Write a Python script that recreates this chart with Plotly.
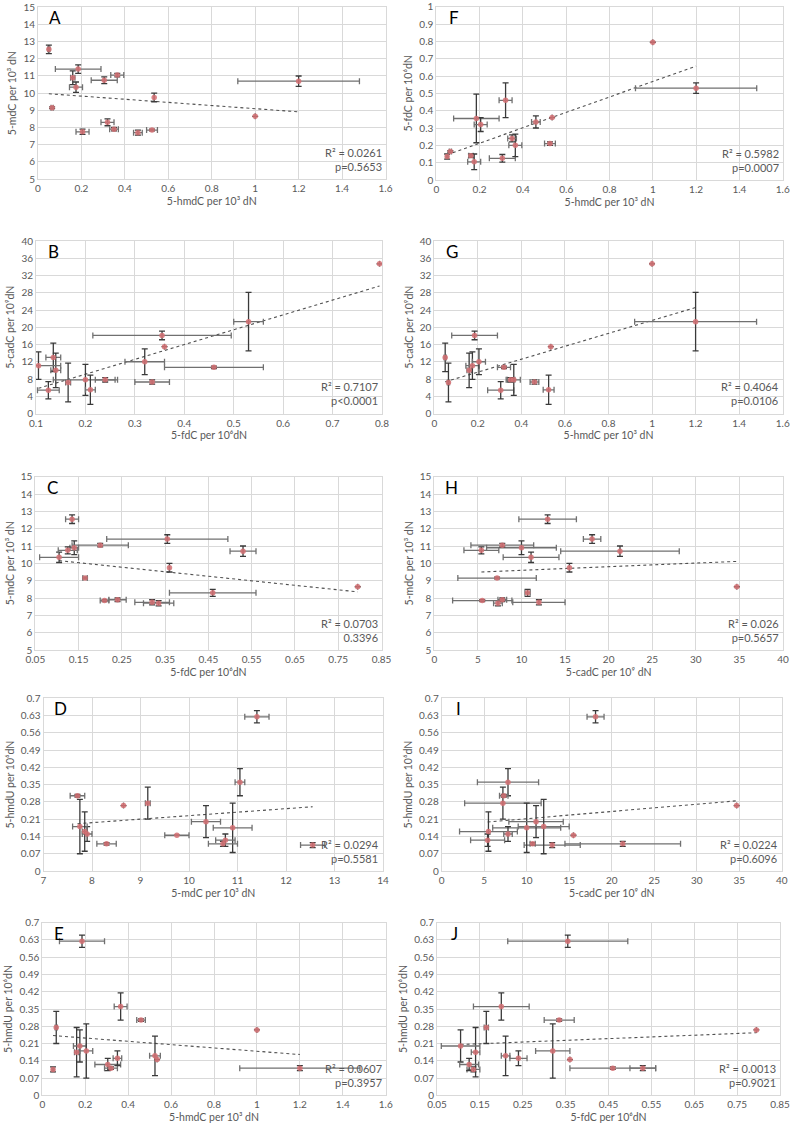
import numpy as np
import plotly.graph_objects as go

# ---- per-sample values (15 samples) ----
hmdC = [0.05, 0.065, 0.185, 0.16, 0.175, 0.305, 0.365, 0.535, 1.2, 1.0, 0.32, 0.35, 0.205, 0.46, 0.525]
mdC = [12.55, 9.15, 11.4, 10.9, 10.35, 10.75, 11.05, 9.75, 10.7, 8.65, 8.3, 7.9, 7.75, 7.7, 7.85]
fdC = [0.135, 0.165, 0.355, 0.14, 0.105, 0.125, 0.2, 0.36, 0.53, 0.795, 0.46, 0.24, 0.32, 0.335, 0.21]
cadC = [13.0, 7.2, 18.1, 10.0, 11.1, 5.4, 7.8, 15.5, 21.3, 34.7, 10.7, 7.8, 12.0, 7.3, 5.5]
hmdU = [0.105, 0.275, 0.625, 0.175, 0.2, 0.125, 0.36, 0.145, 0.11, 0.265, 0.11, 0.15, 0.18, 0.305, 0.16]

# ---- standard deviations ----
hmdC_sd = [0.005, 0.005, 0.105, 0.01, 0.03, 0.06, 0.03, None, 0.28, None, 0.03, 0.02, 0.03, 0.02, 0.025]
mdC_sd = [0.25, 0.05, 0.25, 0.4, 0.3, 0.2, 0.1, 0.25, 0.3, None, 0.2, 0.1, 0.15, 0.15, 0.05]
fdC_sd = [0.015, 0.005, 0.14, 0.01, 0.045, 0.022, 0.065, None, 0.03, None, 0.1, 0.02, 0.04, 0.035, 0.01]
cadC_sd = [3.3, 4.5, 1.0, 4.0, 3.2, 2.0, 3.6, None, 6.8, None, 0.3, 0.5, 3.0, 0.5, 3.4]
hmdU_sd = [0.01, 0.065, 0.025, 0.1, 0.065, 0.025, 0.055, None, 0.01, None, 0.005, 0.03, 0.11, 0.005, 0.08]

# ---- axis titles ----
t_hmdC = "5-hmdC per 10³ dN"
t_mdC = "5-mdC per 10³ dN"
t_fdC = "5-fdC per 10⁶dN"
t_cadC_y = "5-cadC per 10⁹dN"
t_cadC_x = "5-cadC per 10⁹ dN"
t_hmdU = "5-hmdU per 10⁶dN"

# ---- tick labels ----
ticks_hmdC = ["0", "0.2", "0.4", "0.6", "0.8", "1", "1.2", "1.4", "1.6"]
ticks_mdC = ["5", "6", "7", "8", "9", "10", "11", "12", "13", "14", "15"]
ticks_mdC_x = ["7", "8", "9", "10", "11", "12", "13", "14"]
ticks_fdC_y = ["0", "0.1", "0.2", "0.3", "0.4", "0.5", "0.6", "0.7", "0.8", "0.9", "1"]
ticks_fdC_B = ["0.1", "0.2", "0.3", "0.4", "0.5", "0.6", "0.7", "0.8"]
ticks_fdC_C = ["0.05", "0.15", "0.25", "0.35", "0.45", "0.55", "0.65", "0.75", "0.85"]
ticks_cadC_y = ["0", "4", "8", "12", "16", "20", "24", "28", "32", "36", "40"]
ticks_cadC_x = ["0", "5", "10", "15", "20", "25", "30", "35", "40"]
ticks_hmdU = ["0", "0.07", "0.14", "0.21", "0.28", "0.35", "0.42", "0.49", "0.56", "0.63", "0.7"]

# ---- statistics text ----
panel_letters = ["A", "F", "B", "G", "C", "H", "D", "I", "E", "J"]
r2_texts = ["R² = 0.0261", "R² = 0.5982", "R² = 0.7107", "R² = 0.4064", "R² = 0.0703",
            "R² = 0.026", "R² = 0.0294", "R² = 0.0224", "R² = 0.0607", "R² = 0.0013"]
p_texts = ["p=0.5653", "p=0.0007", "p<0.0001", "p=0.0106", "0.3396",
           "p=0.5657", "p=0.5581", "p=0.6096", "p=0.3957", "p=0.9021"]

# build lookup
V = {"hmdC": (hmdC, hmdC_sd), "mdC": (mdC, mdC_sd), "fdC": (fdC, fdC_sd),
     "cadC": (cadC, cadC_sd), "hmdU": (hmdU, hmdU_sd)}

def tv(labels):
    return [float(s) for s in labels]

# (xvar, yvar, xticks, yticks, xtitle, ytitle, xdom_px, ydom_px) in window pixels
panels = [
    ("hmdC", "mdC", ticks_hmdC, ticks_mdC, t_hmdC, t_mdC, (38, 385.5), (7.3, 179)),
    ("hmdC", "fdC", ticks_hmdC, ticks_fdC_y, t_hmdC, t_fdC, (436.3, 782.7), (6.7, 180)),
    ("fdC", "cadC", ticks_fdC_B, ticks_cadC_y, t_fdC, t_cadC_y, (36, 382), (241, 413.5)),
    ("hmdC", "cadC", ticks_hmdC, ticks_cadC_y, t_hmdC, t_cadC_y, (434.3, 782.7), (241, 413.5)),
    ("fdC", "mdC", ticks_fdC_C, ticks_mdC, t_fdC, t_mdC, (35.3, 381.5), (476.7, 650)),
    ("cadC", "mdC", ticks_cadC_x, ticks_mdC, t_cadC_x, t_mdC, (434.3, 783), (476.7, 650)),
    ("mdC", "hmdU", ticks_mdC_x, ticks_hmdU, t_mdC, t_hmdU, (43.5, 383), (698.3, 871)),
    ("cadC", "hmdU", ticks_cadC_x, ticks_hmdU, t_cadC_x, t_hmdU, (441.7, 781.7), (698.3, 871)),
    ("hmdC", "hmdU", ticks_hmdC, ticks_hmdU, t_hmdC, t_hmdU, (42.3, 385.7), (922.7, 1095.3)),
    ("fdC", "hmdU", ticks_fdC_C, ticks_hmdU, t_fdC, t_hmdU, (437, 780), (922.7, 1095.3)),
]

W, H = 794, 1132
FONT = "Lato, 'Open Sans', sans-serif"
GRID = "#d9d9d9"
TXT = "#595959"

def clamp(v):
    return max(0.0, min(1.0, v))

fig = go.Figure()
layout = {}
annotations = []

for i, (xv, yv, xt, yt, xtitle, ytitle, xd, yd) in enumerate(panels):
    n = i + 1
    xs = "" if n == 1 else str(n)
    xvals, xerr = V[xv]
    yvals, yerr = V[yv]
    xa, ya = "x" + xs, "y" + xs

    # trendline (least squares, as the spreadsheet trendline)
    slope, icpt = np.polyfit(xvals, yvals, 1)
    xl = np.array([min(xvals), max(xvals)])
    fig.add_trace(go.Scatter(x=xl, y=slope * xl + icpt, mode="lines", xaxis=xa, yaxis=ya,
                             line=dict(color="#505050", width=1.1, dash="dot"),
                             showlegend=False, hoverinfo="skip"))
    fig.add_trace(go.Scatter(
        x=xvals, y=yvals, mode="markers", xaxis=xa, yaxis=ya, showlegend=False,
        marker=dict(color="#d46f72", size=5.5, opacity=0.85),
        error_x=dict(type="data", array=[e if e is not None else 0.0 for e in xerr],
                     visible=True, color="#707070", thickness=1.3, width=3),
        error_y=dict(type="data", array=[e if e is not None else 0.0 for e in yerr],
                     visible=True, color="#3a3a3a", thickness=1.3, width=3),
    ))

    xtv, ytv = tv(xt), tv(yt)
    layout["xaxis" + xs] = dict(
        domain=[clamp(xd[0] / W), clamp(xd[1] / W)], anchor=ya,
        range=[xtv[0], xtv[-1]],
        tickvals=xtv, ticktext=xt, showgrid=True, gridcolor=GRID, gridwidth=1,
        showline=True, mirror=True, linecolor=GRID, linewidth=1, zeroline=False,
        ticks="", tickfont=dict(size=10, color=TXT, family=FONT), ticklabeloverflow="allow",
        title=dict(text=xtitle, font=dict(size=10.5, color=TXT, family=FONT), standoff=4),
        automargin=False, fixedrange=True)
    layout["yaxis" + xs] = dict(
        domain=[clamp(1 - yd[1] / H), clamp(1 - yd[0] / H)], anchor=xa,
        range=[ytv[0], ytv[-1]],
        tickvals=ytv, ticktext=yt, showgrid=True, gridcolor=GRID, gridwidth=1,
        showline=True, mirror=True, linecolor=GRID, linewidth=1, zeroline=False,
        ticks="", tickfont=dict(size=10, color=TXT, family=FONT), ticklabeloverflow="allow",
        title=dict(text=ytitle, font=dict(size=10.5, color=TXT, family=FONT), standoff=4),
        automargin=False, fixedrange=True)

    annotations.append(dict(text=panel_letters[i], xref=xa + " domain", yref=ya + " domain",
                            x=0.05, y=0.94, xanchor="center", yanchor="middle", showarrow=False,
                            font=dict(size=17, color="#000000", family=FONT)))
    annotations.append(dict(text=r2_texts[i] + "<br>" + p_texts[i], xref=xa + " domain",
                            yref=ya + " domain", x=0.995, y=0.115, xanchor="right",
                            yanchor="middle", align="right", showarrow=False,
                            font=dict(size=11, color=TXT, family=FONT)))

fig.update_layout(width=W, height=H, margin=dict(l=0, r=0, t=0, b=0),
                  paper_bgcolor="white", plot_bgcolor="white",
                  annotations=annotations, **layout)
fig.write_html("out.html", config={"displayModeBar": False},
               post_script="document.body.style.margin='0';")
